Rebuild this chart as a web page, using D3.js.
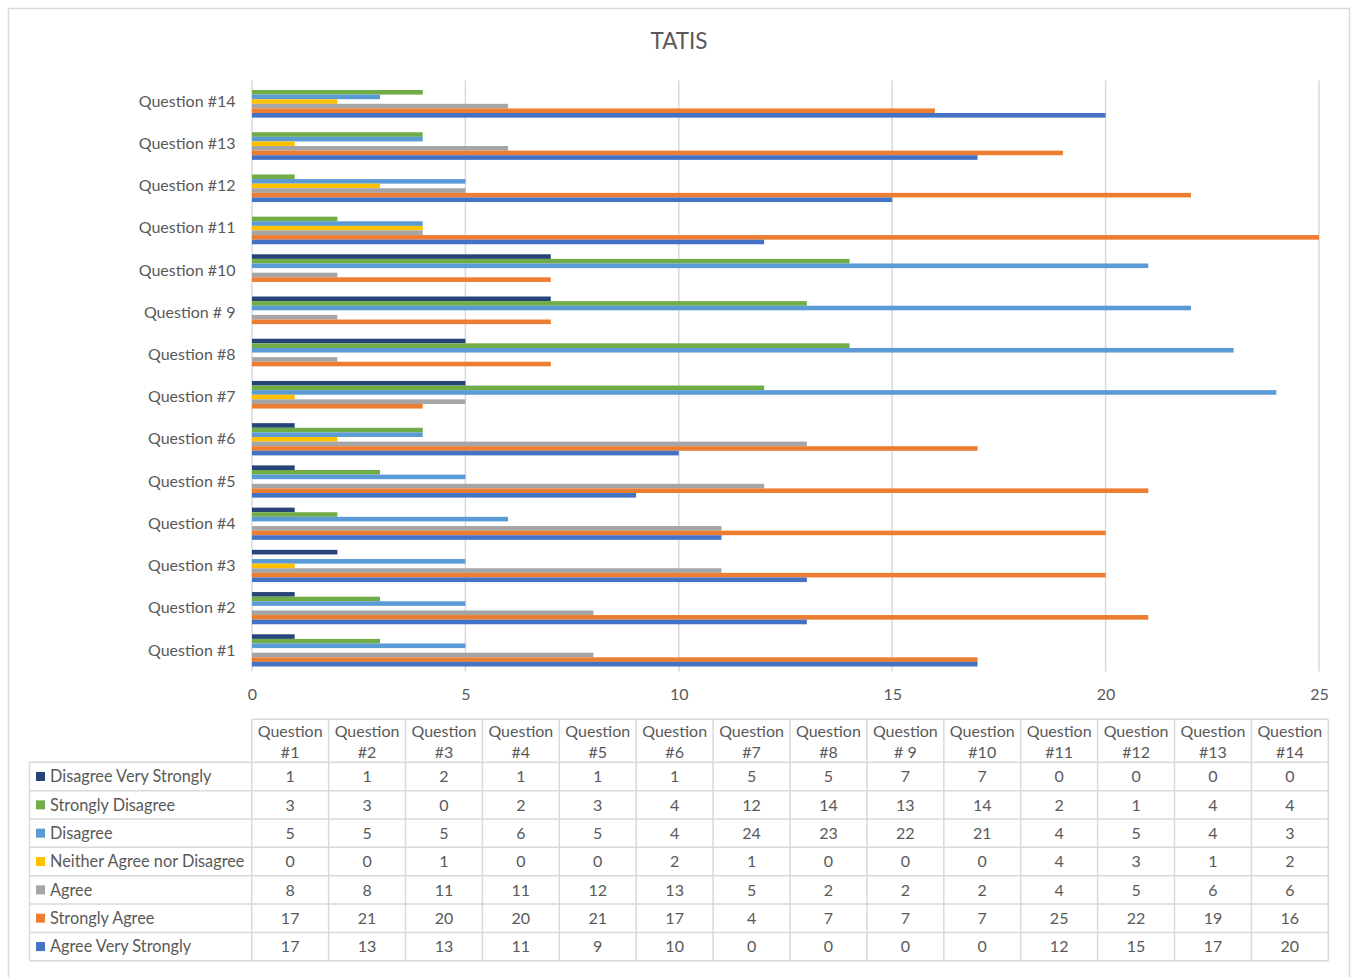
<!DOCTYPE html>
<html>
<head>
<meta charset="utf-8">
<script src="https://cdn.jsdelivr.net/npm/d3@7/dist/d3.min.js"></script>
<style>
  body { margin: 0; background: #fff; }
  svg { display: block; font-family: Lato, "Open Sans", sans-serif; }
</style>
</head>
<body>
<svg id="chart" width="1354" height="977"></svg>
<script>
// ---- data ----
const title = "TATIS";
const categories = ["Question #1","Question #2","Question #3","Question #4","Question #5","Question #6","Question #7","Question #8","Question # 9","Question #10","Question #11","Question #12","Question #13","Question #14"];
const headerLines = [["Question","#1"],["Question","#2"],["Question","#3"],["Question","#4"],["Question","#5"],["Question","#6"],["Question","#7"],["Question","#8"],["Question","# 9"],["Question","#10"],["Question","#11"],["Question","#12"],["Question","#13"],["Question","#14"]];
const seriesNames = ["Disagree Very Strongly","Strongly Disagree","Disagree","Neither Agree nor Disagree","Agree","Strongly Agree","Agree Very Strongly"];
const seriesColors = ["#264478","#70AD47","#5B9BD5","#FFC000","#A5A5A5","#ED7D31","#4472C4"];
const disagreeVeryStrongly = [1,1,2,1,1,1,5,5,7,7,0,0,0,0];
const stronglyDisagree     = [3,3,0,2,3,4,12,14,13,14,2,1,4,4];
const disagree             = [5,5,5,6,5,4,24,23,22,21,4,5,4,3];
const neither              = [0,0,1,0,0,2,1,0,0,0,4,3,1,2];
const agree                = [8,8,11,11,12,13,5,2,2,2,4,5,6,6];
const stronglyAgree        = [17,21,20,20,21,17,4,7,7,7,25,22,19,16];
const agreeVeryStrongly    = [17,13,13,11,9,10,0,0,0,0,12,15,17,20];
const seriesValues = [disagreeVeryStrongly, stronglyDisagree, disagree, neither, agree, stronglyAgree, agreeVeryStrongly];
const xTicks = [0,5,10,15,20,25];

// ---- layout ----
const svg = d3.select("#chart");
const textColor = "#595959";
const gridColor = "#d9d9d9";
const plot = {left: 252, right: 1319, top: 80.4, bottom: 671.5};

// outer border
svg.append("rect").attr("x", 8.5).attr("y", 8.5).attr("width", 1341).attr("height", 1000)
  .attr("fill", "none").attr("stroke", gridColor).attr("stroke-width", 1.5);

svg.append("text").attr("x", 679).attr("y", 49).attr("text-anchor", "middle")
  .attr("font-size", 22.5).attr("fill", textColor).text(title);

const x = d3.scaleLinear().domain([0, 25]).range([plot.left, plot.right]);
const y = d3.scaleBand().domain(categories.slice().reverse()).range([plot.top, plot.bottom])
  .paddingInner(0.237).paddingOuter(0.1185);
const yi = d3.scaleBand().domain(seriesNames).range([0, y.bandwidth()]);

// gridlines
svg.append("g").selectAll("line").data(xTicks).join("line")
  .attr("x1", d => x(d)).attr("x2", d => x(d))
  .attr("y1", plot.top).attr("y2", plot.bottom)
  .attr("stroke", gridColor).attr("stroke-width", 1.5);

// x axis labels
const xAxis = d3.axisBottom(x).tickValues(xTicks).tickSize(0).tickPadding(0);
const gx = svg.append("g").attr("transform", `translate(0,${plot.bottom})`).call(xAxis);
gx.select(".domain").remove();
gx.selectAll("text").attr("font-size", 16).attr("fill", textColor)
  .attr("font-family", "Lato, sans-serif").attr("dy", "28px").attr("y", 0);

// y axis labels
const yAxis = d3.axisLeft(y).tickSize(0).tickPadding(16.5);
const gy = svg.append("g").attr("transform", `translate(${plot.left},0)`).call(yAxis);
gy.select(".domain").remove();
gy.selectAll("text").attr("font-size", 16).attr("fill", textColor).attr("font-family", "Lato, sans-serif");

// bars
const groups = svg.append("g").selectAll("g").data(categories).join("g")
  .attr("transform", d => `translate(0,${y(d)})`);
groups.selectAll("rect").data((c, ci) => seriesNames.map((s, si) => ({s, si, v: seriesValues[si][ci]})))
  .join("rect")
  .attr("x", x(0))
  .attr("y", d => yi(d.s))
  .attr("width", d => x(d.v) - x(0))
  .attr("height", yi.bandwidth())
  .attr("fill", d => seriesColors[d.si]);

// ---- data table ----
const tbl = {left: 29.5, labelRight: 251.7, right: 1328.3, headTop: 719.3, headBottom: 762.3, rowH: 28.35};
const colW = (tbl.right - tbl.labelRight) / categories.length;
const colX = d3.scaleBand().domain(categories).range([tbl.labelRight, tbl.right]);
const tableBottom = tbl.headBottom + tbl.rowH * seriesNames.length;
const tg = svg.append("g");
const lineAttr = sel => sel.attr("stroke", gridColor).attr("stroke-width", 1.5);

// horizontal lines
tg.append("line").attr("x1", tbl.labelRight).attr("x2", tbl.right).attr("y1", tbl.headTop).attr("y2", tbl.headTop).call(lineAttr);
d3.range(seriesNames.length + 1).forEach(i => {
  const yy = tbl.headBottom + i * tbl.rowH;
  tg.append("line").attr("x1", tbl.left).attr("x2", tbl.right).attr("y1", yy).attr("y2", yy).call(lineAttr);
});
// vertical lines
tg.append("line").attr("x1", tbl.left).attr("x2", tbl.left).attr("y1", tbl.headBottom).attr("y2", tableBottom).call(lineAttr);
d3.range(categories.length + 1).forEach(i => {
  const xx = tbl.labelRight + i * colW;
  tg.append("line").attr("x1", xx).attr("x2", xx).attr("y1", tbl.headTop).attr("y2", tableBottom).call(lineAttr);
});

// header text
categories.forEach((c, ci) => {
  const cx = colX(c) + colX.bandwidth() / 2;
  const t = tg.append("text").attr("text-anchor", "middle").attr("font-size", 16).attr("fill", textColor);
  t.append("tspan").attr("x", cx).attr("y", 736.5).text(headerLines[ci][0]);
  t.append("tspan").attr("x", cx).attr("y", 757.5).text(headerLines[ci][1]);
});

// rows
seriesNames.forEach((s, si) => {
  const top = tbl.headBottom + si * tbl.rowH;
  const mid = top + tbl.rowH / 2;
  tg.append("rect").attr("x", 36).attr("y", mid - 4.5).attr("width", 9).attr("height", 9).attr("fill", seriesColors[si]);
  tg.append("text").attr("x", 50).attr("y", mid + 5.8).attr("font-size", 16.3).attr("fill", textColor).text(s);
  categories.forEach((c, ci) => {
    tg.append("text").attr("x", colX(c) + colX.bandwidth() / 2).attr("y", mid + 5.8)
      .attr("text-anchor", "middle").attr("font-size", 16).attr("fill", textColor)
      .text(seriesValues[si][ci]);
  });
});
</script>
</body>
</html>
